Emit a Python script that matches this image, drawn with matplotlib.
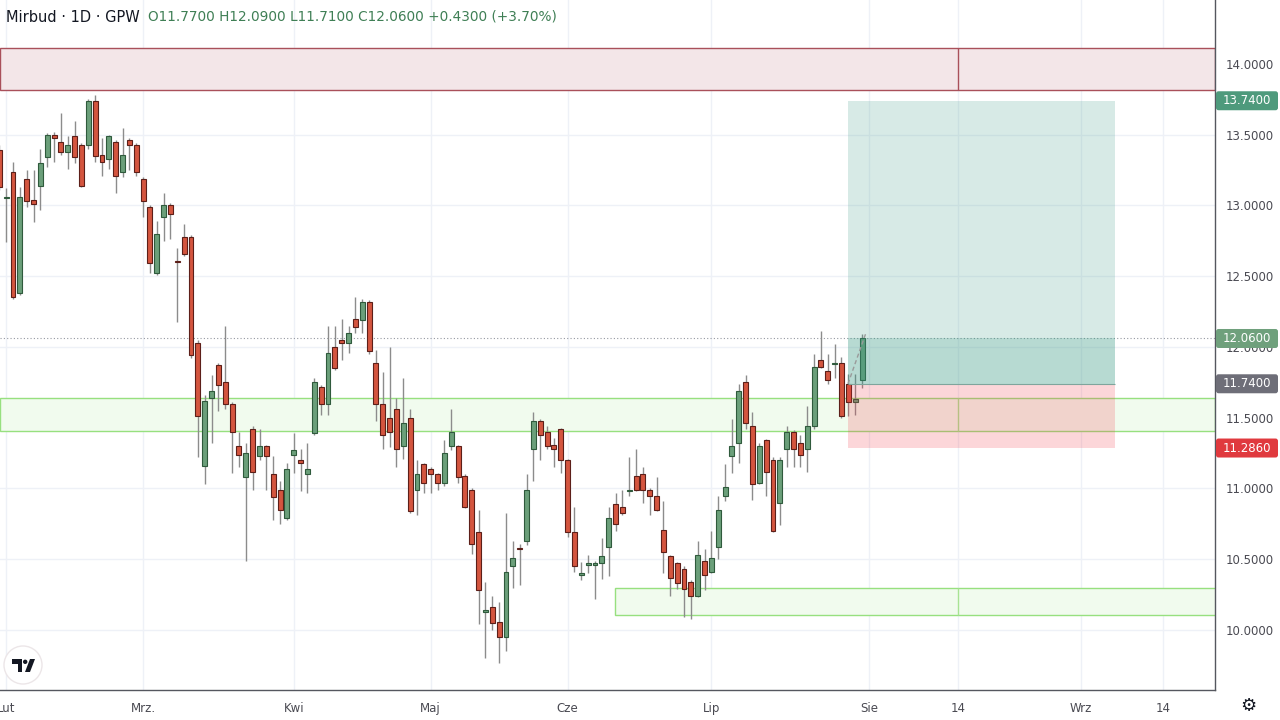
import matplotlib
matplotlib.use('Agg')
import matplotlib.pyplot as plt
from matplotlib.patches import Rectangle, FancyBboxPatch, Circle, Polygon

# ---------------- data ----------------
opens = [13.39, 13.05, 13.24, 12.38, 13.19, 13.04, 13.14, 13.34, 13.50, 13.45,
         13.38, 13.49, 13.43, 13.43, 13.74, 13.36, 13.33, 13.45, 13.24, 13.46,
         13.43, 13.19, 12.99, 12.52, 12.92, 13.00, 12.61, 12.78, 12.78, 12.03,
         11.16, 11.64, 11.87, 11.75, 11.60, 11.30, 11.08, 11.42, 11.23, 11.30,
         11.10, 10.99, 10.79, 11.24, 11.20, 11.10, 11.39, 11.72, 11.60, 12.00,
         12.05, 12.03, 12.20, 12.19, 12.32, 11.89, 11.60, 11.50, 11.56, 11.30,
         11.50, 10.99, 11.17, 11.14, 11.10, 11.04, 11.30, 11.30, 11.09, 10.99,
         10.69, 10.13, 10.16, 10.06, 9.95, 10.45, 10.58, 10.63, 11.28, 11.48,
         11.40, 11.31, 11.42, 11.20, 10.69, 10.39, 10.46, 10.46, 10.47, 10.59,
         10.89, 10.87, 10.98, 11.09, 11.10, 10.99, 10.95, 10.71, 10.52, 10.47,
         10.43, 10.34, 10.24, 10.49, 10.41, 10.59, 10.95, 11.23, 11.32, 11.75,
         11.44, 11.04, 11.34, 11.20, 10.90, 11.28, 11.40, 11.32, 11.28, 11.44,
         11.91, 11.83, 11.88, 11.89, 11.74, 11.61, 11.77]
highs = [13.43, 13.12, 13.31, 13.13, 13.25, 13.25, 13.40, 13.51, 13.52, 13.65,
         13.49, 13.60, 13.44, 13.75, 13.78, 13.48, 13.50, 13.46, 13.55, 13.48,
         13.44, 13.20, 13.00, 12.89, 13.09, 13.02, 12.70, 12.87, 12.79, 12.05,
         11.66, 11.80, 11.89, 12.15, 11.61, 11.40, 11.32, 11.44, 11.42, 11.31,
         11.23, 11.05, 11.18, 11.39, 11.28, 11.32, 11.78, 11.73, 12.15, 12.15,
         12.20, 12.15, 12.35, 12.34, 12.33, 11.98, 11.82, 12.00, 11.64, 11.78,
         11.56, 11.20, 11.18, 11.15, 11.11, 11.34, 11.56, 11.31, 11.10, 11.00,
         10.85, 10.34, 10.24, 10.20, 10.83, 10.63, 10.61, 11.10, 11.54, 11.49,
         11.44, 11.36, 11.43, 11.21, 10.87, 10.48, 10.53, 10.49, 10.65, 10.87,
         10.97, 10.99, 11.22, 11.28, 11.15, 11.00, 11.08, 10.91, 10.53, 10.48,
         10.45, 10.35, 10.63, 10.57, 10.70, 10.95, 11.17, 11.49, 11.74, 11.80,
         11.54, 11.32, 11.35, 11.22, 11.22, 11.44, 11.41, 11.38, 11.58, 11.95,
         12.11, 11.95, 12.02, 11.93, 11.81, 11.81, 12.09]
lows = [13.11, 12.74, 12.34, 12.37, 12.99, 12.88, 12.97, 13.27, 13.31, 13.36,
        13.26, 13.30, 13.13, 13.40, 13.31, 13.21, 13.26, 13.09, 13.20, 13.25,
        13.21, 12.92, 12.52, 12.51, 12.75, 12.76, 12.18, 12.64, 11.92, 11.22,
        11.03, 11.32, 11.55, 11.56, 11.11, 11.15, 10.49, 10.99, 11.20, 10.99,
        10.78, 10.75, 10.78, 11.11, 10.98, 10.97, 11.38, 11.52, 11.52, 11.84,
        11.91, 11.96, 12.10, 12.10, 11.95, 11.48, 11.28, 11.29, 11.15, 11.21,
        10.83, 10.81, 10.97, 10.97, 10.99, 11.02, 11.27, 11.04, 10.86, 10.54,
        10.04, 9.80, 10.00, 9.77, 9.85, 10.30, 10.32, 10.60, 11.05, 11.20,
        11.28, 11.15, 11.11, 10.66, 10.41, 10.35, 10.40, 10.22, 10.36, 10.38,
        10.70, 10.81, 10.95, 10.98, 10.90, 10.81, 10.84, 10.40, 10.24, 10.29,
        10.09, 10.08, 10.23, 10.28, 10.40, 10.50, 10.91, 11.11, 11.18, 11.42,
        10.92, 11.03, 10.95, 10.69, 10.74, 11.15, 11.15, 11.15, 11.12, 11.42,
        11.85, 11.74, 11.78, 11.50, 11.51, 11.52, 11.71]
closes = [13.13, 13.06, 12.35, 13.06, 13.03, 13.01, 13.30, 13.50, 13.48, 13.38,
          13.43, 13.34, 13.14, 13.74, 13.35, 13.31, 13.49, 13.21, 13.36, 13.43,
          13.24, 13.03, 12.59, 12.80, 13.00, 12.94, 12.60, 12.66, 11.94, 11.51,
          11.62, 11.69, 11.73, 11.60, 11.40, 11.24, 11.25, 11.12, 11.30, 11.23,
          10.94, 10.85, 11.14, 11.27, 11.18, 11.14, 11.75, 11.60, 11.96, 11.85,
          12.03, 12.10, 12.14, 12.32, 11.97, 11.60, 11.38, 11.40, 11.28, 11.46,
          10.84, 11.10, 11.04, 11.10, 11.04, 11.25, 11.40, 11.08, 10.87, 10.61,
          10.28, 10.14, 10.05, 9.95, 10.41, 10.51, 10.57, 10.99, 11.48, 11.38,
          11.30, 11.28, 11.20, 10.69, 10.45, 10.40, 10.47, 10.47, 10.52, 10.79,
          10.75, 10.83, 10.99, 10.99, 10.99, 10.95, 10.85, 10.55, 10.37, 10.33,
          10.29, 10.24, 10.53, 10.39, 10.51, 10.85, 11.01, 11.30, 11.69, 11.46,
          11.03, 11.30, 11.12, 10.70, 11.20, 11.40, 11.28, 11.24, 11.44, 11.86,
          11.86, 11.77, 11.89, 11.51, 11.61, 11.63, 12.06]

month_ticks = [1, 21, 43, 63, 83, 104, 127, 140, 158, 170]
month_labels = ['Lut', 'Mrz.', 'Kwi', 'Maj', 'Cze', 'Lip', 'Sie', '14', 'Wrz', '14']
price_ticks = [10.0, 10.5, 11.0, 11.5, 12.0, 12.5, 13.0, 13.5, 14.0]

resistance_zone = (13.816, 14.113)
support_zone = (11.406, 11.640)
low_zone = (10.106, 10.297)
low_zone_start = 89.9
zone_marker = 140

entry_price = 11.74
target_price = 13.74
stop_price = 11.286
pos_start = 123.95
pos_end = 162.95

# ---------------- figure ----------------
W, H = 1280, 720
fig = plt.figure(figsize=(12.8, 7.2), dpi=100)
fig.patch.set_facecolor('white')
ax = fig.add_axes([0, 30 / H, 1215 / W, 690 / H])
bar_px = 6.847
ax.set_xlim(0.1, 0.1 + 1215 / bar_px)
ax.set_ylim(9.576, 14.452)

ax.set_axisbelow(True)
ax.grid(True, color='#eef1f7', lw=1)
for s in ['top', 'left']:
    ax.spines[s].set_visible(False)
for s in ['right', 'bottom']:
    ax.spines[s].set_color('#55575f')
    ax.spines[s].set_linewidth(1)

ax.yaxis.tick_right()
ax.set_yticks(price_ticks)
ax.set_yticklabels([f'{p:.4f}' for p in price_ticks])
ax.tick_params(axis='y', length=0, pad=8, labelsize=8.5, labelcolor='#4a4a52')
ax.set_xticks(month_ticks)
ax.set_xticklabels(month_labels)
ax.tick_params(axis='x', length=0, pad=8.5, labelsize=8.5, labelcolor='#4a4a52')

# zones
ax.axhspan(*resistance_zone, facecolor='#f3e6e8', edgecolor='#a9505a', lw=1, zorder=1)
ax.vlines(zone_marker, *resistance_zone, color='#a9505a', lw=1, zorder=1)
ax.axhspan(*support_zone, facecolor='#f1fbee', edgecolor='#97e07f', lw=1, zorder=1)
ax.vlines(zone_marker, *support_zone, color='#a8e393', lw=1, zorder=1)
ax.add_patch(Rectangle((low_zone_start, low_zone[0]), 300, low_zone[1] - low_zone[0],
                       facecolor='#f1fbee', edgecolor='#97e07f', lw=1, zorder=1))
ax.vlines(zone_marker, *low_zone, color='#a8e393', lw=1, zorder=1)

# candles
xs = list(range(len(opens)))
up = [c >= o for o, c in zip(opens, closes)]
fills = ['#6b9f7a' if u else '#d4553f' for u in up]
edges = ['#2f5a3c' if u else '#5c1f19' for u in up]
ax.vlines(xs, lows, highs, color='#8c8c8c', lw=1, zorder=3)
bottoms = [min(o, c) for o, c in zip(opens, closes)]
heights = [max(abs(c - o), 0.008) for o, c in zip(opens, closes)]
ax.bar(xs, heights, bottom=bottoms, width=0.72, color=fills, edgecolor=edges,
       linewidth=0.8, zorder=4)

# current price line
last = closes[-1]
ax.axhline(last, ls=(0, (1, 2)), color='#9598a1', lw=0.8, zorder=2)

# long position tool
teal = '#3a9a85'
ax.add_patch(Rectangle((pos_start, entry_price), pos_end - pos_start, target_price - entry_price,
                       facecolor=teal, alpha=0.2, lw=0, zorder=5))
ax.add_patch(Rectangle((pos_start, entry_price), pos_end - pos_start, last - entry_price,
                       facecolor=teal, alpha=0.2, lw=0, zorder=5))
ax.add_patch(Rectangle((pos_start, stop_price), pos_end - pos_start, entry_price - stop_price,
                       facecolor='#f23645', alpha=0.2, lw=0, zorder=5))
ax.hlines(entry_price, pos_start, pos_end, color='#7fa59c', lw=0.8, zorder=5)
ax.plot([pos_start, xs[-1] + 0.5], [entry_price, highs[-1]], ls=(0, (3, 2)),
        color='#9a9a9a', lw=1, zorder=6)

# ---------------- overlay (pixel coords) ----------------
ov = fig.add_axes([0, 0, 1, 1])
ov.set_xlim(0, W)
ov.set_ylim(0, H)
ov.axis('off')
ov.patch.set_alpha(0)

for price, col in [(target_price, '#4e9a7c'), (last, '#6fa07c'),
                   (entry_price, '#6e6e78'), (stop_price, '#e0393e')]:
    yp = ax.transData.transform((0, price))[1]
    ov.add_patch(FancyBboxPatch((1216, yp - 9.5), 62, 19,
                                boxstyle='round,pad=0,rounding_size=2.5',
                                facecolor=col, edgecolor='none', zorder=10))
    ov.text(1247, yp, f'{price:.4f}', color='white', ha='center', va='center',
            fontsize=8.5, zorder=11)

# header
chg = closes[-1] - closes[-2]
pct = chg / closes[-2] * 100
ov.text(6, H - 17, 'Mirbud · 1D · GPW', fontsize=10.5, color='#131722', va='center', ha='left')
ov.text(148, H - 17,
        f'O{opens[-1]:.4f} H{highs[-1]:.4f} L{lows[-1]:.4f} C{closes[-1]:.4f} {chg:+.4f} ({pct:+.2f}%)',
        fontsize=9.8, color='#3f7f55', va='center', ha='left')

# TradingView logo
ov.add_patch(Circle((23, H - 665), 19, facecolor='white', edgecolor='#ece6e8', lw=1, zorder=10))
ov.add_patch(Polygon([(12, H - 659), (22, H - 659), (22, H - 672), (18, H - 672),
                      (18, H - 664), (12, H - 664)], closed=True, facecolor='#131722',
                     edgecolor='none', zorder=11))
ov.add_patch(Circle((25.2, H - 661.8), 2.2, facecolor='#131722', edgecolor='none', zorder=11))
ov.add_patch(Polygon([(30, H - 659), (35, H - 659), (30, H - 672), (25, H - 672)], closed=True,
                     facecolor='#131722', edgecolor='none', zorder=11))

# gear
ov.text(1248, H - 706, '⚙', fontsize=13, color='#131722', ha='center', va='center')

fig.savefig('out.png', dpi=100)
